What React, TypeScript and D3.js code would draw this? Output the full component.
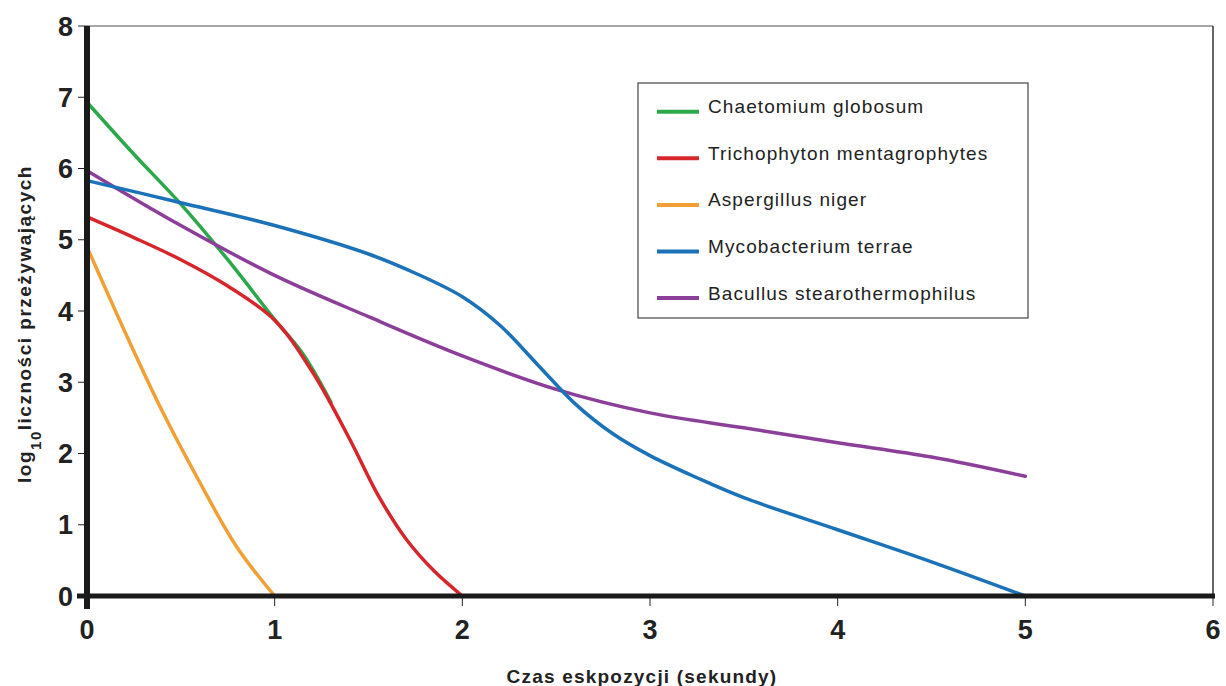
import React from 'react'
import * as d3 from 'd3'

// czas ekspozycji (s) i log10 liczności przeżywających
const chaetomiumX = [0, 0.25, 0.5, 0.75, 1.0, 1.15, 1.3]
const chaetomiumY = [6.93, 6.2, 5.5, 4.72, 3.88, 3.4, 2.72]

const trichophytonX = [0, 0.25, 0.5, 0.75, 1.0, 1.2, 1.4, 1.55, 1.7, 1.85, 2.0]
const trichophytonY = [5.32, 5.03, 4.72, 4.35, 3.87, 3.15, 2.2, 1.42, 0.8, 0.35, 0]

const aspergillusX = [0, 0.2, 0.4, 0.6, 0.8, 1.0]
const aspergillusY = [4.9, 3.72, 2.6, 1.6, 0.68, 0]

const mycobacteriumX = [0, 0.5, 1.0, 1.5, 1.75, 2.0, 2.2, 2.4, 2.6, 2.8, 3.0, 3.25, 3.5, 4.0, 4.5, 5.0]
const mycobacteriumY = [5.83, 5.52, 5.2, 4.8, 4.53, 4.2, 3.8, 3.25, 2.7, 2.28, 1.97, 1.66, 1.38, 0.93, 0.48, 0]

const bacullusX = [0, 0.5, 1.0, 1.5, 2.0, 2.5, 3.0, 3.5, 4.0, 4.5, 5.0]
const bacullusY = [5.97, 5.2, 4.5, 3.92, 3.37, 2.9, 2.57, 2.36, 2.15, 1.95, 1.68]

const seriesNames = [
  'Chaetomium globosum',
  'Trichophyton mentagrophytes',
  'Aspergillus niger',
  'Mycobacterium terrae',
  'Bacullus stearothermophilus',
]
const seriesColors = ['#2aa84a', '#d7262b', '#f0a035', '#1c72b8', '#8c3f98']

const xTicks = [0, 1, 2, 3, 4, 5, 6]
const yTicks = [0, 1, 2, 3, 4, 5, 6, 7, 8]

const zip = (xs: number[], ys: number[]) => xs.map((x, i) => [x, ys[i]] as [number, number])

export default function App() {
  const margin = { left: 87, right: 13, top: 26, bottom: 90 }
  const width = 1226
  const height = 686

  const x = d3.scaleLinear().domain([0, 6]).range([margin.left, width - margin.right])
  const y = d3.scaleLinear().domain([0, 8]).range([height - margin.bottom, margin.top])

  const line = d3
    .line<[number, number]>()
    .x((d) => x(d[0]))
    .y((d) => y(d[1]))
    .curve(d3.curveCatmullRom.alpha(0.5))

  const data = [
    zip(chaetomiumX, chaetomiumY),
    zip(trichophytonX, trichophytonY),
    zip(aspergillusX, aspergillusY),
    zip(mycobacteriumX, mycobacteriumY),
    zip(bacullusX, bacullusY),
  ]
  // kolejność rysowania: zielona pod czerwoną
  const drawOrder = [0, 1, 2, 4, 3]

  const font = '"Liberation Sans", Arial, sans-serif'
  const x0 = x(0)
  const y0 = y(0)

  const legend = { x: 638, y: 83, w: 390, h: 235 }

  return (
    <svg width={width} height={height} style={{ position: 'absolute', left: 0, top: 0 }} fontFamily={font}>
      <rect width={width} height={height} fill="#fff" />

      {/* ramka */}
      <line x1={x0} x2={x(6)} y1={y(8)} y2={y(8)} stroke="#8a8a8a" strokeWidth={1.5} />
      <line x1={x(6)} x2={x(6)} y1={y(8)} y2={y0} stroke="#333" strokeWidth={1.5} />

      {/* ticks */}
      {yTicks.map((t) => (
        <g key={'y' + t}>
          <line x1={x0 - 9} x2={x0} y1={y(t)} y2={y(t)} stroke="#222" strokeWidth={1} />
          <text x={73} y={y(t)} dy="0.36em" textAnchor="end" fontSize={27} fontWeight="bold" fill="#222">
            {t}
          </text>
        </g>
      ))}
      {xTicks.map((t) => (
        <g key={'x' + t}>
          <line x1={x(t)} x2={x(t)} y1={y0} y2={y0 + 10} stroke="#222" strokeWidth={1} />
          <text x={x(t)} y={639} textAnchor="middle" fontSize={27} fontWeight="bold" fill="#222">
            {t}
          </text>
        </g>
      ))}

      {/* serie */}
      {drawOrder.map((i) => (
        <path
          key={seriesNames[i]}
          d={line(data[i]) || ''}
          fill="none"
          stroke={seriesColors[i]}
          strokeWidth={3.5}
          strokeLinecap="round"
        />
      ))}

      {/* osie */}
      <line x1={x0} x2={x0} y1={y(8)} y2={y0 + 13} stroke="#1a1a1a" strokeWidth={6} />
      <line x1={x0 - 10} x2={x(6) + 2} y1={y0} y2={y0} stroke="#1a1a1a" strokeWidth={5} />

      {/* legenda */}
      <rect x={legend.x} y={legend.y} width={legend.w} height={legend.h} fill="#fff" stroke="#444" strokeWidth={1.2} />
      {seriesNames.map((name, i) => {
        const ly = 111.7 + i * 46.6
        return (
          <g key={name}>
            <line x1={657} x2={699} y1={ly} y2={ly} stroke={seriesColors[i]} strokeWidth={4} />
            <text x={708} y={ly + 1.5} fontSize={19} letterSpacing={1.1} fill="#222">
              {name}
            </text>
          </g>
        )
      })}

      {/* tytuły osi */}
      <text x={642} y={683} textAnchor="middle" fontSize={19} fontWeight="bold" letterSpacing={1.2} fill="#222">
        Czas eskpozycji (sekundy)
      </text>
      <text
        transform="translate(31,324) rotate(-90)"
        textAnchor="middle"
        fontSize={19}
        fontWeight="bold"
        letterSpacing={1.5}
        fill="#222"
      >
        log
        <tspan fontSize={15} dy={10}>10</tspan>
        <tspan dy={-10}>liczności przeżywających</tspan>
      </text>
    </svg>
  )
}
